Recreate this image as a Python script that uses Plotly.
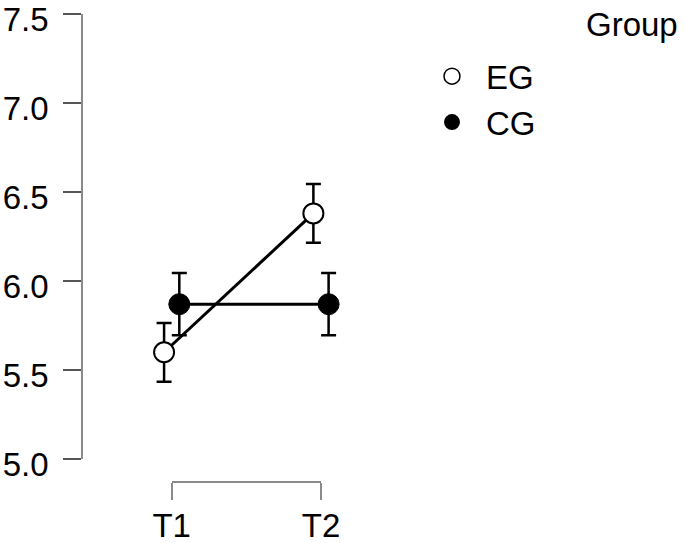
import plotly.graph_objects as go

# ---- data ----
times = ["T1", "T2"]
groups = ["EG", "CG"]
eg_mean = [5.60, 6.38]
eg_err = [0.165, 0.165]
cg_mean = [5.87, 5.87]
cg_err = [0.175, 0.175]
y_ticks = [5.0, 5.5, 6.0, 6.5, 7.0, 7.5]

FONT = "Liberation Sans, Arial, sans-serif"
FS = 33
pos = [1, 2]
dodge = 0.051

L, R, T, B = 83, 267, 14, 61
W, H = 685, 543
plot_w = W - L - R
plot_h = H - T - B

fig = go.Figure()

fig.add_trace(go.Scatter(
    x=[p - dodge for p in pos], y=eg_mean, name=groups[0], showlegend=False,
    mode="lines+markers",
    line=dict(color="black", width=3),
    marker=dict(symbol="circle", size=20, color="white", line=dict(color="black", width=2)),
    error_y=dict(type="data", array=eg_err, color="black", thickness=2.5, width=7.5),
))
fig.add_trace(go.Scatter(
    x=[p + dodge for p in pos], y=cg_mean, name=groups[1], showlegend=False,
    mode="lines+markers",
    line=dict(color="black", width=3),
    marker=dict(symbol="circle", size=21, color="black", line=dict(color="black", width=1)),
    error_y=dict(type="data", array=cg_err, color="black", thickness=2.5, width=7.5),
))
# legend entries (markers only)
fig.add_trace(go.Scatter(x=[None], y=[None], name=groups[0], legendgroup="EG", mode="markers",
                         marker=dict(symbol="circle", size=18, color="white",
                                     line=dict(color="black", width=1.5))))
fig.add_trace(go.Scatter(x=[None], y=[None], name=groups[1], legendgroup="CG", mode="markers",
                         marker=dict(symbol="circle", size=18, color="black")))
# invisible trace carrying the bracket x axis
fig.add_trace(go.Scatter(x=pos, y=[None, None], xaxis="x2", yaxis="y",
                         mode="markers", showlegend=False, hoverinfo="skip"))

x_lo = 1 - (171.7 - L) / 149.3
x_hi = 2 + (W - R - 321.0) / 149.3

fig.update_layout(
    width=W, height=H,
    margin=dict(l=L, r=R, t=T, b=B),
    paper_bgcolor="white", plot_bgcolor="rgba(0,0,0,0)",
    font=dict(family=FONT, size=FS, color="black"),
    showlegend=True,
    xaxis=dict(visible=False, range=[x_lo, x_hi], domain=[0, 1]),
    xaxis2=dict(anchor="free", position=0,
                domain=[(171.7 - L) / plot_w, (321.0 - L) / plot_w], range=[1, 2],
                showline=True, linecolor="#8a8a8a", linewidth=1.5,
                ticks="outside", ticklen=17, tickwidth=1.5, tickcolor="#8a8a8a",
                tickvals=pos, ticktext=times, showgrid=False, zeroline=False,
                automargin=False, ticklabeloverflow="allow", ticklabelstandoff=-2,
                tickfont=dict(size=FS, family=FONT, color="black")),
    yaxis=dict(range=[5.0, 7.5], domain=[0.049, 1], anchor="x",
               showline=True, linecolor="#8a8a8a", linewidth=1.5,
               ticks="outside", ticklen=18, tickwidth=1.5, tickcolor="#555555",
               tickvals=y_ticks, ticktext=[f"{v:.1f}" for v in y_ticks],
               showgrid=False, zeroline=False, ticklabelstandoff=8, ticklabelshift=5,
               automargin=False, ticklabeloverflow="allow",
               tickfont=dict(size=FS, family=FONT, color="black")),
    legend=dict(xref="container", yref="container", x=0.6102, y=0.9112,
                xanchor="left", yanchor="top", tracegroupgap=0, itemwidth=58,
                font=dict(size=FS, family=FONT), bgcolor="rgba(0,0,0,0)"),
    annotations=[dict(text="Group", xref="paper", yref="paper",
                      x=(680 - L) / plot_w, y=(482 - 24) / plot_h,
                      xanchor="right", yanchor="middle", showarrow=False,
                      font=dict(size=FS, family=FONT))],
)

fig.write_html("out.html", config={"displayModeBar": False},
               post_script="document.body.style.margin='0';")
